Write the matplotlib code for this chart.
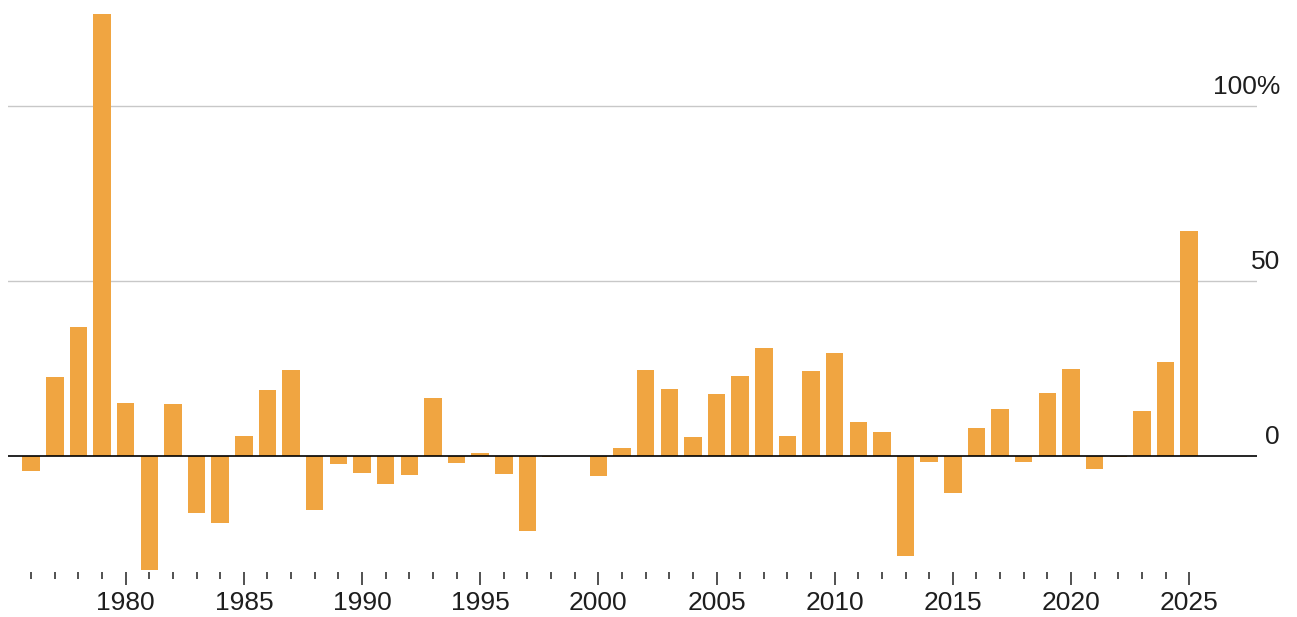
import numpy as np
import matplotlib.pyplot as plt
from matplotlib.ticker import FixedLocator

plt.rcParams['font.family'] = ['Liberation Sans', 'DejaVu Sans']

# annual change, %
years = list(range(1976, 2026))
returns = [
    -4.2, 22.7, 36.9, 126.3, 15.2, -32.6, 14.8, -16.3, -19.2, 5.7,
    18.9, 24.5, -15.3, -2.4, -4.9, -7.9, -5.3, 16.6, -2.1, 0.9,
    -5.1, -21.4, -0.3, 0.1, -5.7, 2.4, 24.5, 19.2, 5.4, 17.7,
    23.0, 30.8, 5.6, 24.2, 29.4, 9.8, 7.0, -28.5, -1.7, -10.5,
    8.0, 13.4, -1.7, 18.1, 24.9, -3.7, -0.2, 12.9, 27.0, 64.3,
]
grid_vals = [50, 100]
ylabels = {0: "0", 50: "50", 100: "100%"}
major_years = list(range(1980, 2026, 5))

bar_color = "#F0A541"
text_color = "#1e1e1e"

fig = plt.figure(figsize=(12.97, 6.17), dpi=100)
ax = fig.add_axes([8 / 1297, 45 / 617, (1257 - 8) / 1297, (572 - 11.5) / 617])

for g in grid_vals:
    ax.axhline(g, color="#c8c8c8", lw=1.0, zorder=1)
ax.bar(years, returns, width=0.74, color=bar_color, zorder=2)
ax.axhline(0, color="black", lw=1.2, zorder=3)

ax.set_xlim(1975.02, 2027.87)
ax.set_ylim(-33.14, 127)

for s in ax.spines.values():
    s.set_visible(False)
ax.set_yticks([])

ax.set_xticks(major_years)
ax.set_xticklabels([str(y) for y in major_years])
ax.xaxis.set_minor_locator(FixedLocator([y for y in years if y not in major_years]))
ax.tick_params(axis="x", which="major", length=9.4, width=1.2, color="#333333",
               labelsize=19, labelcolor=text_color, pad=4.5)
ax.tick_params(axis="x", which="minor", length=5, width=1.2, color="#333333")

for v, lab in ylabels.items():
    ax.annotate(lab, xy=(1280 / 1297, v), xycoords=("figure fraction", "data"),
                xytext=(0, 9), textcoords="offset points",
                ha="right", va="baseline", fontsize=19, color=text_color,
                annotation_clip=False)

fig.savefig("out.png", dpi=100)
